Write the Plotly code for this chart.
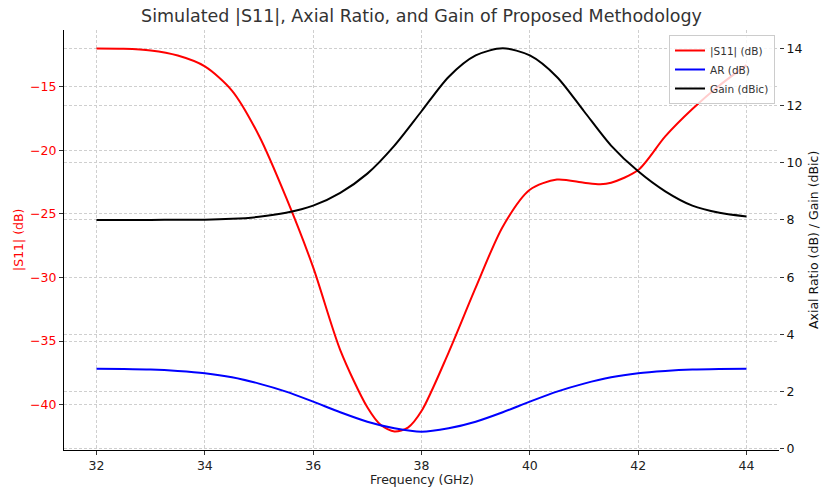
import plotly.graph_objects as go

# Frequency points (GHz)
freq_s11 = [32.0, 32.5, 33.0, 33.5, 34.0, 34.5, 35.0, 35.5, 36.0, 36.5, 37.0, 37.25, 37.5,
            37.75, 38.0, 38.5, 39.0, 39.5, 40.0, 40.5, 41.0, 41.3, 41.5, 42.0, 42.5, 43.0, 43.5, 44.0]
s11_db = [-12.0, -12.02, -12.15, -12.55, -13.4, -15.3, -18.85, -23.7, -29.2, -35.7, -40.2, -41.6, -42.1,
          -41.8, -40.5, -35.9, -30.8, -26.0, -23.1, -22.3, -22.55, -22.67, -22.55, -21.55, -18.9, -16.75, -14.9, -13.3]

freq = [32.0, 32.5, 33.0, 33.5, 34.0, 34.5, 35.0, 35.5, 36.0, 36.5, 37.0, 37.5, 38.0,
        38.5, 39.0, 39.5, 40.0, 40.5, 41.0, 41.5, 42.0, 42.5, 43.0, 43.5, 44.0]
ar_db = [2.80, 2.79, 2.77, 2.72, 2.64, 2.50, 2.28, 2.00, 1.65, 1.28, 0.95, 0.72, 0.60,
         0.72, 0.95, 1.28, 1.65, 2.00, 2.28, 2.50, 2.64, 2.72, 2.77, 2.79, 2.80]
gain_dbic = [8.00, 8.00, 8.00, 8.01, 8.01, 8.04, 8.11, 8.25, 8.50, 8.95, 9.62, 10.6, 11.8,
             13.0, 13.75, 14.0, 13.75, 13.0, 11.8, 10.6, 9.7, 9.0, 8.5, 8.25, 8.12]

x_ticks = [32, 34, 36, 38, 40, 42, 44]
left_ticks = [-40, -35, -30, -25, -20, -15]
right_ticks = [0, 2, 4, 6, 8, 10, 12, 14]

FONT = "DejaVu Sans"
GRID = "#cfcfcf"
W, H = 821, 491
L, R, T, B = 64, 42, 30, 41
PW, PH = W - L - R, H - T - B

fig = go.Figure()
fig.add_trace(go.Scatter(x=freq_s11, y=s11_db, name="|S11| (dB)", mode="lines",
                         line=dict(color="#ff0000", width=2, shape="spline", smoothing=0.8),
                         yaxis="y"))
fig.add_trace(go.Scatter(x=freq, y=ar_db, name="AR (dB)", mode="lines",
                         line=dict(color="#0000ff", width=2, shape="spline", smoothing=0.8),
                         yaxis="y2"))
fig.add_trace(go.Scatter(x=freq, y=gain_dbic, name="Gain (dBic)", mode="lines",
                         line=dict(color="#000000", width=2, shape="spline", smoothing=0.8),
                         yaxis="y2"))

fig.update_layout(
    width=W, height=H,
    margin=dict(l=L, r=R, t=T, b=B, autoexpand=False),
    paper_bgcolor="white", plot_bgcolor="white",
    font=dict(family=FONT, size=12, color="#222222"),
    title=dict(text="Simulated |S11|, Axial Ratio, and Gain of Proposed Methodology",
               x=(L + PW / 2) / W, xanchor="center", y=1 - 16 / H, yanchor="middle",
               font=dict(family=FONT, size=17.5, color="#333333")),
    xaxis=dict(range=[31.4, 44.6], tickvals=x_ticks, ticks="outside", ticklen=4,
               tickcolor="#333333", showline=True, linecolor="#000000", linewidth=1.2,
               showgrid=True, gridcolor=GRID, griddash="3px,2px", gridwidth=0.8,
               zeroline=False, tickfont=dict(size=12.5), automargin=False),
    yaxis=dict(range=[-43.56, -10.54], tickvals=left_ticks, ticks="outside", ticklen=4,
               tickcolor="#333333", showline=True, linecolor="#000000", linewidth=1.2,
               showgrid=True, gridcolor=GRID, griddash="3px,2px", gridwidth=0.8,
               zeroline=False, tickfont=dict(size=12.5, color="#ff0000"), automargin=False),
    yaxis2=dict(range=[-0.04, 14.64], tickvals=right_ticks, overlaying="y", side="right",
                ticks="outside", ticklen=4, tickcolor="#333333", showline=False,
                showgrid=True, gridcolor=GRID, griddash="3px,2px", gridwidth=0.8,
                zeroline=False, tickfont=dict(size=12.5, color="#111111"), automargin=False),
    legend=dict(x=(775 - L) / PW, y=(H - B - 35) / PH, xanchor="right", yanchor="top",
                bgcolor="rgba(255,255,255,0.8)", bordercolor="#cccccc", borderwidth=1,
                font=dict(family=FONT, size=10.5, color="#333333"),
                itemwidth=30, tracegroupgap=0),
    showlegend=True,
    annotations=[
        dict(text="Frequency (GHz)", xref="paper", yref="paper",
             x=0.5, y=-(479 - (H - B)) / PH, xanchor="center", yanchor="middle",
             showarrow=False, font=dict(family=FONT, size=12.5, color="#222222")),
        dict(text="|S11| (dB)", xref="paper", yref="paper",
             x=(18 - L) / PW, y=0.5, xanchor="center", yanchor="middle", textangle=-90,
             showarrow=False, font=dict(family=FONT, size=12.5, color="#ff0000")),
        dict(text="Axial Ratio (dB) / Gain (dBic)", xref="paper", yref="paper",
             x=(813 - L) / PW, y=0.5, xanchor="center", yanchor="middle", textangle=-90,
             showarrow=False, font=dict(family=FONT, size=12.5, color="#111111")),
    ],
)

fig.write_html("out.html", config={"displayModeBar": False},
               post_script="document.body.style.margin='0px';")
